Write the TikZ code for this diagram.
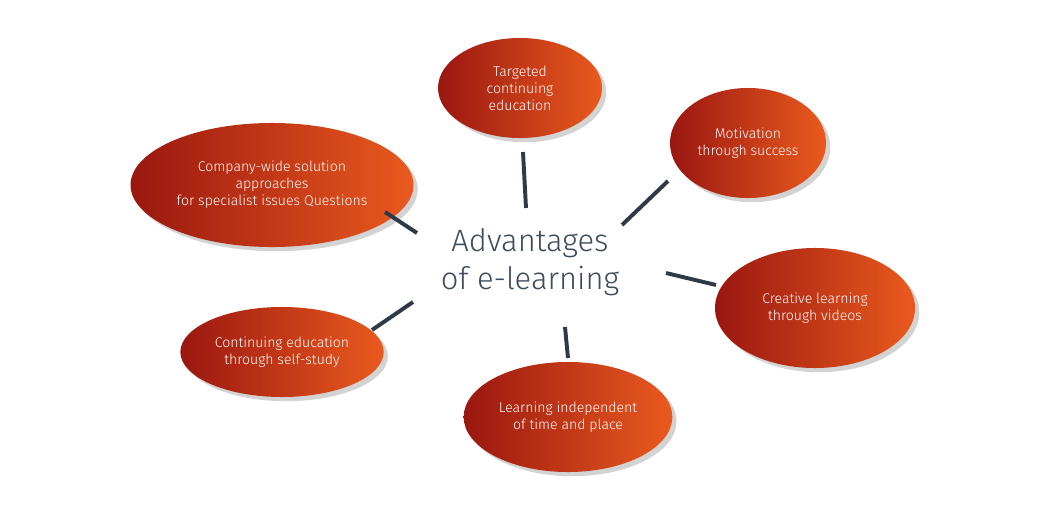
\documentclass[tikz,border=0pt]{standalone}
\usepackage{fontspec}
\setmainfont{Fira Sans Light}
\usetikzlibrary{shapes.geometric,shadows}
\definecolor{bubbleleft}{HTML}{9A1710}
\definecolor{bubbleright}{HTML}{EA5A1E}
\definecolor{linkgray}{HTML}{2F3A48}
\definecolor{titlegray}{HTML}{3D4B5A}
\tikzset{
	bubble/.style={ellipse, left color=bubbleleft, right color=bubbleright, draw=none,
		text=white, align=center, font=\fontsize{10}{12}\selectfont,
		drop shadow={shadow xshift=3pt, shadow yshift=-3pt, opacity=0.35}},
	link/.style={linkgray, line width=2.8pt}
}
\begin{document}
\begin{tikzpicture}[x=0.025cm, y=-0.025cm]
	\useasboundingbox (0,0) rectangle (1040,520);
	%centre
	\node (adv) at (530,262) [text=titlegray, align=center, font=\fontsize{22}{27}\selectfont]{Advantages\\of e-learning};

	%bubbles
	\node (target) at (520,88) [bubble, minimum width=4.1cm, minimum height=2.5cm]{Targeted\\continuing\\education};
	\node (motiv) at (748,143) [bubble, minimum width=3.6cm, minimum height=2.75cm]{Motivation\\through success};
	\node (company) at (272,185) [bubble, minimum width=6cm, minimum height=3.1cm]{Company-wide solution\\approaches\\for specialist issues Questions};
	\node (creative) at (815,308) [bubble, minimum width=5cm, minimum height=3cm]{Creative learning\\through videos};
	\node (selfstudy) at (282,352) [bubble, minimum width=4.5cm, minimum height=2.25cm]{Continuing education\\through self-study};
	\node (indep) at (568,417) [bubble, minimum width=4.85cm, minimum height=2.75cm]{Learning independent\\of time and place};

	%link ends
	\coordinate (t1) at (523,152); \coordinate (t2) at (526,208);
	\coordinate (m1) at (668,181); \coordinate (m2) at (622,225);
	\coordinate (c1) at (385,212); \coordinate (c2) at (417,233);
	\coordinate (v1) at (666,273); \coordinate (v2) at (716,285);
	\coordinate (s1) at (413,302); \coordinate (s2) at (372,330);
	\coordinate (i1) at (565,327); \coordinate (i2) at (568,358);

	\foreach \a/\b in {t1/t2, m1/m2, c1/c2, v1/v2, s1/s2, i1/i2}{
		\draw[link] (\a) -- (\b);
	}
\end{tikzpicture}
\end{document}
